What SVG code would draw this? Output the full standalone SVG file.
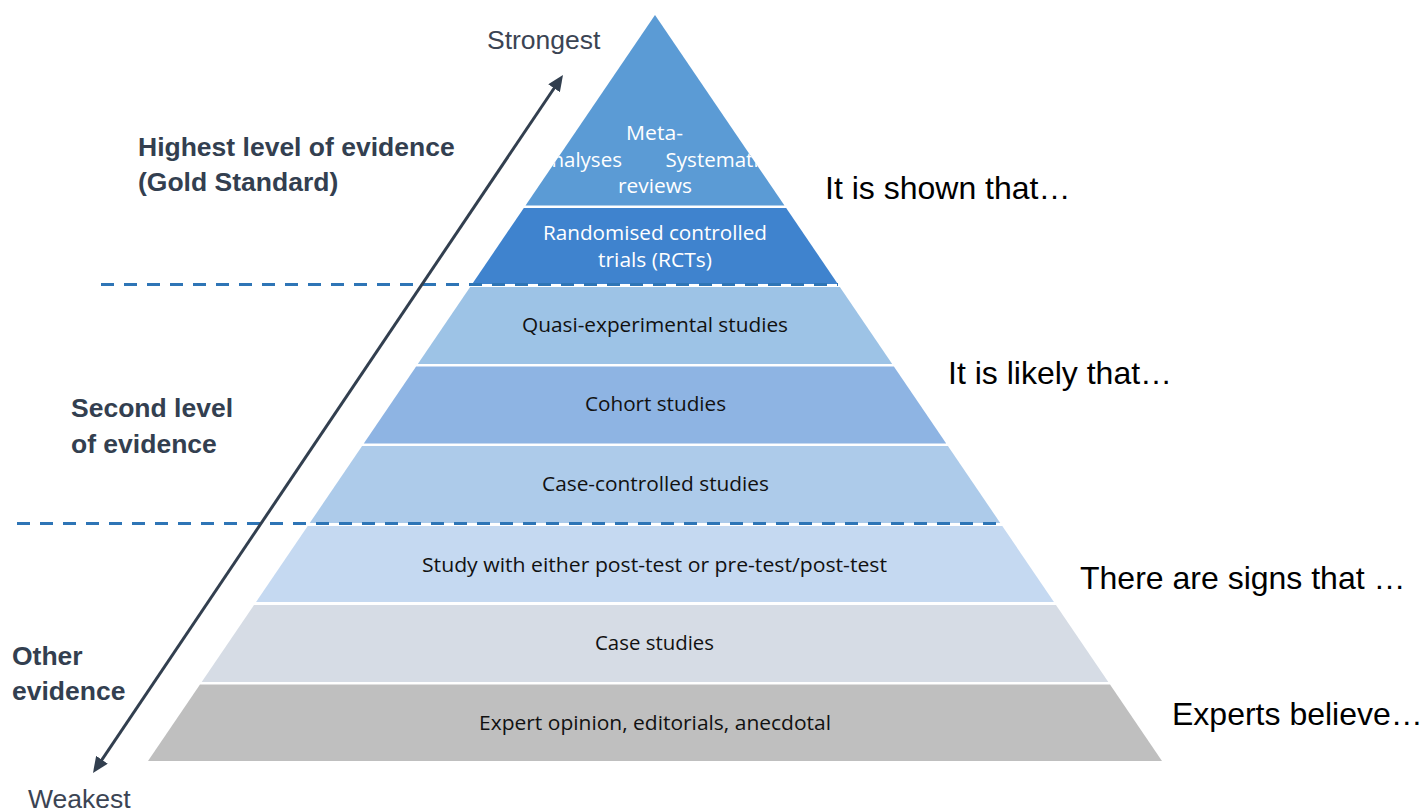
<svg xmlns="http://www.w3.org/2000/svg" width="1426" height="812" viewBox="0 0 1426 812">
<style>
.tier-text{font-family:"Open Sans","Noto Sans",sans-serif;font-size:20.5px;text-anchor:middle;fill:#111111}
.tier-text.w{fill:#ffffff}
.side{font-family:"Liberation Sans",Arial,sans-serif;font-size:26.5px;font-weight:bold;fill:#333F50}
.end{font-family:"Liberation Sans",Arial,sans-serif;font-size:26.5px;fill:#3B4453}
.claim{font-family:"Liberation Sans",Arial,sans-serif;font-size:32px;fill:#000000}
.dash{stroke:#2E75B6;stroke-width:3;stroke-dasharray:13 10;fill:none}
</style>
<defs>
<marker id="ah" viewBox="0 0 16 14" markerWidth="16" markerHeight="14" refX="10" refY="7" orient="auto-start-reverse" markerUnits="userSpaceOnUse">
<path d="M0,0 L16,7 L0,14 z" fill="#323F4F"/>
</marker>
<clipPath id="topclip"><polygon points="655,15 525.5,205.5 784.5,205.5"/></clipPath>
</defs>
<rect width="1426" height="812" fill="#ffffff"/>

<g id="tier1">
<polygon points="655,15 525.53,205.5 784.47,205.5" fill="#5B9BD5"/>
<g clip-path="url(#topclip)">
<text class="tier-text w" x="654.5" y="140" textLength="57" lengthAdjust="spacingAndGlyphs">Meta-</text>
<text class="tier-text w" x="581" y="166.7">analyses</text>
<text class="tier-text w" x="717" y="166.7">Systematic</text>
<text class="tier-text w" x="655" y="192.7" textLength="74" lengthAdjust="spacingAndGlyphs">reviews</text>
</g>
</g>
<g id="tier2">
<polygon points="523.83,208 786.17,208 837.82,284 472.18,284" fill="#3F83CE"/>
<text class="tier-text w" x="655" y="240" textLength="224" lengthAdjust="spacingAndGlyphs">Randomised controlled</text>
<text class="tier-text w" x="655" y="266.7" textLength="114" lengthAdjust="spacingAndGlyphs">trials (RCTs)</text>
</g>
<g id="tier3">
<polygon points="470.14,287 839.86,287 892.19,364 417.81,364" fill="#9DC3E6"/>
<text class="tier-text" x="655" y="332" textLength="266" lengthAdjust="spacingAndGlyphs">Quasi-experimental studies</text>
</g>
<g id="tier4">
<polygon points="416.11,366.5 893.89,366.5 946.22,443.5 363.78,443.5" fill="#8EB4E3"/>
<text class="tier-text" x="655.5" y="411" textLength="141" lengthAdjust="spacingAndGlyphs">Cohort studies</text>
</g>
<g id="tier5">
<polygon points="362.08,446 947.92,446 1000.25,523 309.75,523" fill="#ADCBEA"/>
<text class="tier-text" x="655.5" y="491" textLength="227" lengthAdjust="spacingAndGlyphs">Case-controlled studies</text>
</g>
<g id="tier6">
<polygon points="307.71,526 1002.29,526 1053.94,602 256.06,602" fill="#C5D9F1"/>
<text class="tier-text" x="654.5" y="571.5" textLength="465" lengthAdjust="spacingAndGlyphs">Study with either post-test or pre-test/post-test</text>
</g>
<g id="tier7">
<polygon points="254.02,605 1055.98,605 1108.31,682 201.69,682" fill="#D6DCE5"/>
<text class="tier-text" x="654.5" y="650" textLength="119" lengthAdjust="spacingAndGlyphs">Case studies</text>
</g>
<g id="tier8">
<polygon points="199.99,684.5 1110.01,684.5 1162,761 148,761" fill="#BFBFBF"/>
<text class="tier-text" x="655" y="730" textLength="352" lengthAdjust="spacingAndGlyphs">Expert opinion, editorials, anecdotal</text>
</g>

<g id="connectors">
<line class="dash" x1="101" y1="284.5" x2="838" y2="284.5"/>
<line class="dash" x1="14" y1="523.5" x2="1000" y2="523.5" stroke-dashoffset="-3"/>
<line x1="96.35" y1="768.02" x2="559.65" y2="79.98" stroke="#323F4F" stroke-width="3" marker-start="url(#ah)" marker-end="url(#ah)"/>
</g>

<g id="labels">
<text class="end" x="487" y="49">Strongest</text>
<text class="end" x="28" y="808">Weakest</text>
<text class="side" x="138" y="156">Highest level of evidence</text>
<text class="side" x="138" y="191">(Gold Standard)</text>
<text class="side" x="71" y="417">Second level</text>
<text class="side" x="71" y="453">of evidence</text>
<text class="side" x="12" y="665">Other</text>
<text class="side" x="12" y="700">evidence</text>
<text class="claim" x="825" y="199">It is shown that…</text>
<text class="claim" x="948" y="384">It is likely that…</text>
<text class="claim" x="1080" y="589">There are signs that …</text>
<text class="claim" x="1172" y="725">Experts believe…</text>
</g>
</svg>
